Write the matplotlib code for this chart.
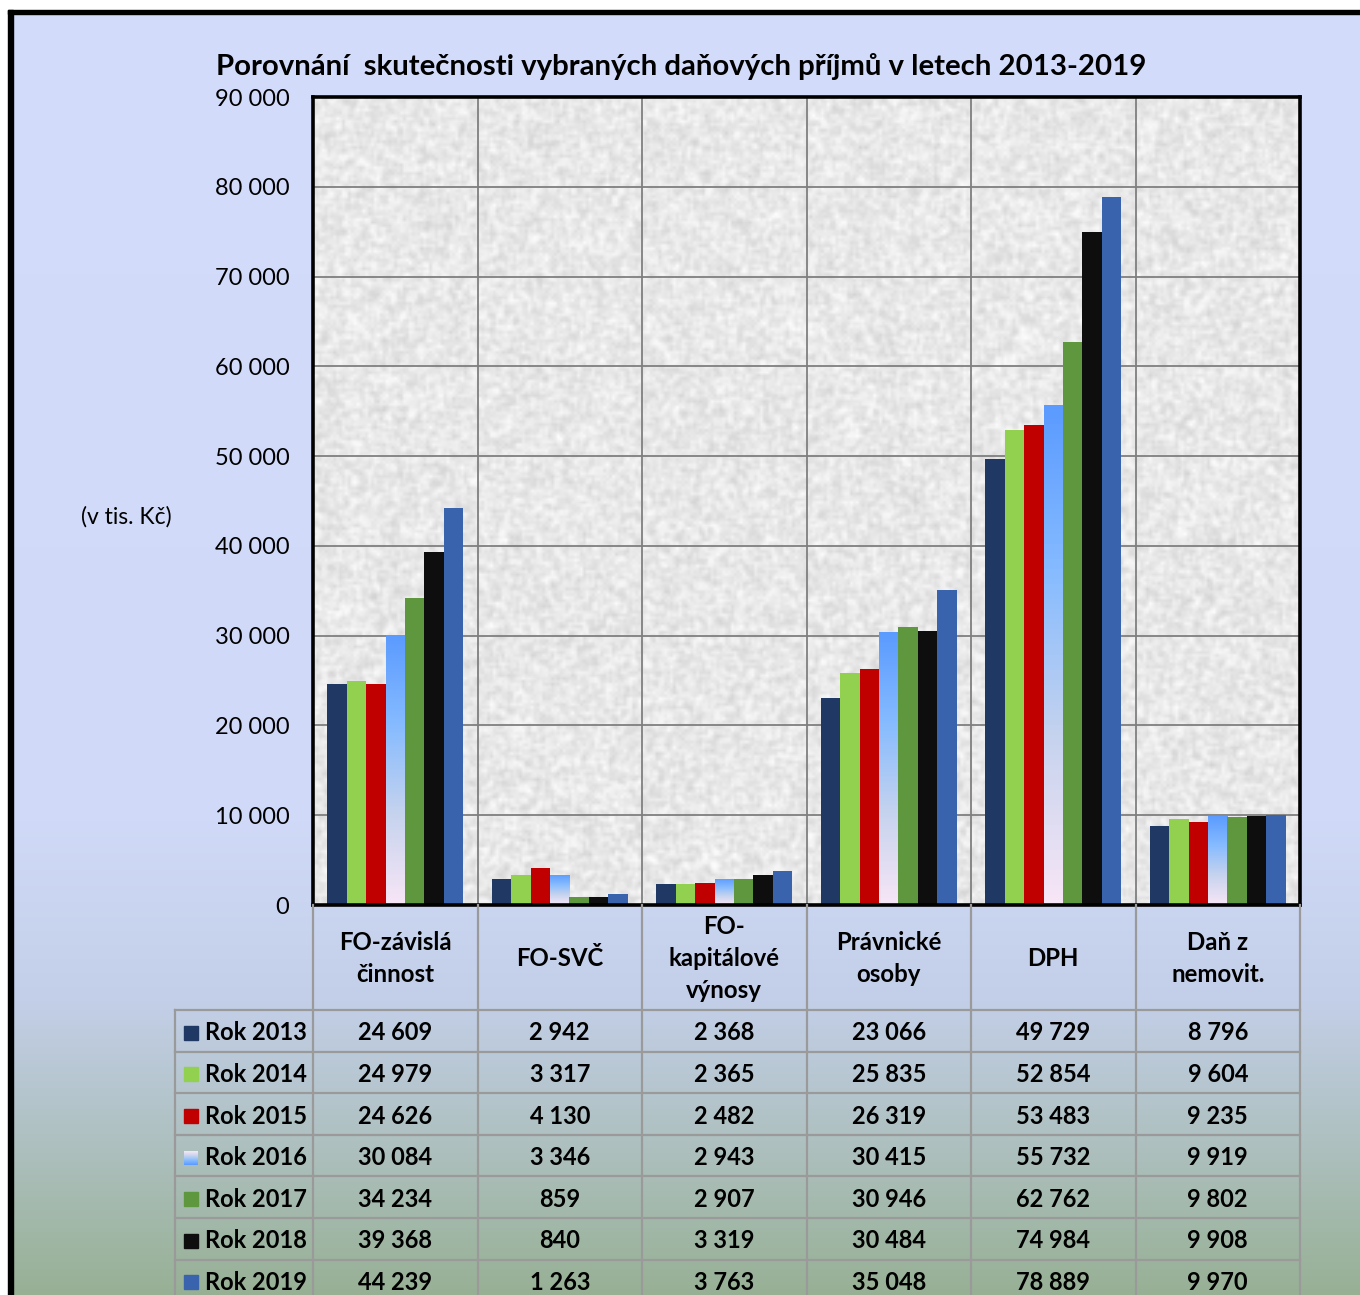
import numpy as np
import matplotlib
matplotlib.use("Agg")
import matplotlib.pyplot as plt
from matplotlib.colors import LinearSegmentedColormap, to_rgb
from matplotlib.patches import Rectangle

plt.rcParams['font.family'] = ['Lato', 'DejaVu Sans']

# ---------------- data ----------------
categories = ["FO-závislá\nčinnost", "FO-SVČ", "FO-\nkapitálové\nvýnosy",
              "Právnické\nosoby", "DPH", "Daň z\nnemovit."]
series_names = ["Rok 2013", "Rok 2014", "Rok 2015", "Rok 2016",
                "Rok 2017", "Rok 2018", "Rok 2019"]
rok2013 = [24609, 2942, 2368, 23066, 49729, 8796]
rok2014 = [24979, 3317, 2365, 25835, 52854, 9604]
rok2015 = [24626, 4130, 2482, 26319, 53483, 9235]
rok2016 = [30084, 3346, 2943, 30415, 55732, 9919]
rok2017 = [34234, 859, 2907, 30946, 62762, 9802]
rok2018 = [39368, 840, 3319, 30484, 74984, 9908]
rok2019 = [44239, 1263, 3763, 35048, 78889, 9970]
series_values = [rok2013, rok2014, rok2015, rok2016, rok2017, rok2018, rok2019]
y_ticks = [0, 10000, 20000, 30000, 40000, 50000, 60000, 70000, 80000, 90000]
title = "Porovnání  skutečnosti vybraných daňových příjmů v letech 2013-2019"
y_label = "(v tis. Kč)"

colors = ["#1F3864", "#92D050", "#C00000", None, "#5E973D", "#0E0E0E", "#3A63AD"]
grad_cmap = LinearSegmentedColormap.from_list(
    "g16", ["#F7E6F6", "#C6D3EE", "#86BBFF", "#5B9BFF"])

def fmt(v):
    return f"{v:,}".replace(",", " ")

W, H = 1360, 1295
fig = plt.figure(figsize=(W / 100, H / 100), dpi=100)

# ---------------- background gradient ----------------
bg = fig.add_axes([0, 0, 1, 1], zorder=0)
stops_y = [0, 820, 1000, 1295]
stops_c = [to_rgb("#D3DDFB"), to_rgb("#D0DAF8"), to_rgb("#C3CFE8"), to_rgb("#97B094")]
ys = np.arange(H)
grad = np.zeros((H, 1, 3))
for k in range(3):
    grad[:, 0, k] = np.interp(ys, stops_y, [c[k] for c in stops_c])
bg.imshow(grad, extent=(0, W, H, 0), aspect='auto')
bg.set_xlim(0, W)
bg.set_ylim(H, 0)
bg.axis('off')
# white margin + black frame
bg.add_patch(Rectangle((0, 0), 8, H, color='white', zorder=3))
bg.add_patch(Rectangle((0, 0), W, 10, color='white', zorder=3))
bg.add_patch(Rectangle((8, 10), 5, H, color='black', zorder=4))
bg.add_patch(Rectangle((8, 10), W, 4, color='black', zorder=4))

# ---------------- main axes ----------------
AX_L, AX_R, AX_T, AX_B = 313, 1300, 97, 905
ax = fig.add_axes([AX_L / W, (H - AX_B) / H, (AX_R - AX_L) / W, (AX_B - AX_T) / H], zorder=1)
ncat = len(categories)
ax.set_xlim(0, ncat)
ax.set_ylim(0, 90000)

# granite texture (decorative only)
rng = np.random.default_rng(7)
tex = rng.random((280, 340))
sm = tex.copy()
for dx, dy in [(1, 0), (-1, 0), (0, 1), (0, -1)]:
    sm += 0.5 * np.roll(np.roll(tex, dx, 0), dy, 1)
sm = (sm - sm.min()) / (sm.max() - sm.min())
g = 0.82 + 0.18 * sm
ax.imshow(np.dstack([g, g, g]), extent=(0, ncat, 0, 90000),
          aspect='auto', interpolation='bilinear', zorder=0)

for yv in y_ticks[1:]:
    ax.axhline(yv, color='#7F7F7F', lw=1.3, zorder=1)
for i in range(1, ncat):
    ax.axvline(i, color='#7F7F7F', lw=1.3, zorder=1)

nser = len(series_values)
group_w = 0.827
bw = group_w / nser
xc = np.arange(ncat) + 0.5
for s, vals in enumerate(series_values):
    xs = xc - group_w / 2 + bw * (s + 0.5)
    if colors[s] is None:
        bars = ax.bar(xs, vals, width=bw, facecolor='none', edgecolor='none', zorder=3)
        for b in bars:
            x0 = b.get_x()
            h = b.get_height()
            im = ax.imshow(np.linspace(0, 1, 100).reshape(-1, 1), cmap=grad_cmap,
                           origin='lower', extent=(x0, x0 + bw, 0, h),
                           aspect='auto', zorder=3)
            im.set_clip_path(b)
    else:
        ax.bar(xs, vals, width=bw, color=colors[s], edgecolor='none', zorder=3)
ax.set_xlim(0, ncat)
ax.set_ylim(0, 90000)

ax.set_yticks(y_ticks)
ax.set_yticklabels([fmt(v) for v in y_ticks])
ax.tick_params(axis='y', length=0, pad=17, labelsize=17)
ax.set_xticks([])
for sp in ax.spines.values():
    sp.set_linewidth(2.6)
    sp.set_color('black')
    sp.set_zorder(5)

# ---------------- overlay (title, labels, table) ----------------
ov = fig.add_axes([0, 0, 1, 1], zorder=2)
ov.set_xlim(0, W)
ov.set_ylim(H, 0)
ov.axis('off')
ov.patch.set_alpha(0)

ov.text(681, 66, title, ha='center', va='center', fontsize=21.2, fontweight='bold')
ov.text(126, 517, y_label, ha='center', va='center', fontsize=16.5)

cw = (AX_R - AX_L) / ncat
col_x = [AX_L + cw * i for i in range(ncat + 1)]
TBL_L = 175
HDR_B = 1010
ROW_H = 41.6
nrows = len(series_names)
row_y = [HDR_B + ROW_H * k for k in range(nrows + 1)]
lc = '#9A9A9A'
lw = 1.6
for x in col_x:
    ov.plot([x, x], [AX_B, H], color=lc, lw=lw, zorder=1)
ov.plot([TBL_L, TBL_L], [HDR_B, H], color=lc, lw=lw)
for y in row_y:
    if y < H:
        ov.plot([TBL_L, AX_R], [y, y], color=lc, lw=lw)

for i, c in enumerate(categories):
    ov.text(col_x[i] + cw / 2, (AX_B + HDR_B) / 2 + 1, c, ha='center', va='center',
            fontsize=17.3, fontweight='bold', linespacing=1.5)

for s, name in enumerate(series_names):
    yc = row_y[s] + ROW_H / 2 + 2
    if colors[s] is None:
        ov.imshow(np.linspace(0, 1, 50).reshape(-1, 1), cmap=grad_cmap, origin='upper',
                  extent=(184, 198, yc + 7, yc - 7), aspect='auto', zorder=3)
    else:
        ov.add_patch(Rectangle((184, yc - 7), 14, 14, color=colors[s], zorder=3))
    ov.text(205, yc, name, ha='left', va='center', fontsize=17, fontweight='bold')
    for i in range(ncat):
        ov.text(col_x[i] + cw / 2, yc, fmt(series_values[s][i]), ha='center',
                va='center', fontsize=17, fontweight='bold')
ov.set_xlim(0, W)
ov.set_ylim(H, 0)

fig.savefig("out.png", dpi=100)
